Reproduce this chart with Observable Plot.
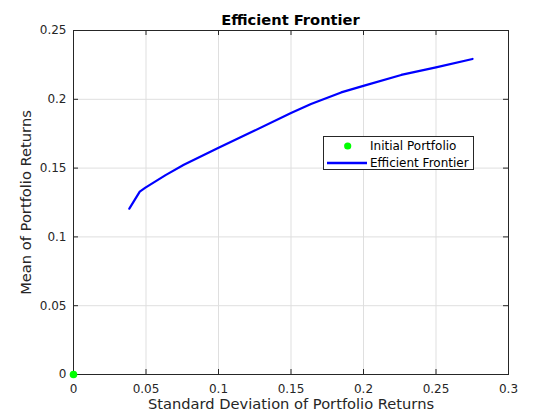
<!DOCTYPE html>
<html>
<head>
<meta charset="utf-8">
<script src="https://cdn.jsdelivr.net/npm/d3@7"></script>
<script src="https://cdn.jsdelivr.net/npm/@observablehq/plot@0.6"></script>
<style>
  html, body { margin: 0; padding: 0; background: #fff; }
  #wrap { position: relative; width: 560px; height: 420px; font-family: "DejaVu Sans", sans-serif; color: #262626; }
  #title { position: absolute; left: 0; width: 581px; top: 11px; line-height: 17px; text-align: center; font-weight: bold; font-size: 14.67px; color: #000; }
  #legend { position: absolute; left: 323px; top: 136px; width: 151px; height: 34px; border: 1px solid #262626; background: #fff; box-sizing: border-box; font-size: 12px; }
  .row { position: absolute; left: 0; height: 16px; display: flex; align-items: center; }
  .sym { width: 46px; position: relative; height: 16px; }
  .sym svg { display: block; }
  .lbl { white-space: nowrap; color: #000; line-height: 16px; }
</style>
</head>
<body>
<div id="wrap"></div>
<script>
// Data
const frontierRisk   = [0.0385, 0.0457, 0.0496, 0.0635, 0.0761, 0.0997, 0.1246, 0.1500, 0.1638, 0.1846, 0.2005, 0.2260, 0.2500, 0.2752];
const frontierReturn = [0.1205, 0.1329, 0.1358, 0.1449, 0.1524, 0.1646, 0.1771, 0.1900, 0.1966, 0.2050, 0.2099, 0.2177, 0.2232, 0.2293];
const initialRisk = [0];
const initialReturn = [0];
const xTicks = [0, 0.05, 0.1, 0.15, 0.2, 0.25, 0.3];
const yTicks = [0, 0.05, 0.1, 0.15, 0.2, 0.25];
const titleText = "Efficient Frontier";
const xLabel = "Standard Deviation of Portfolio Returns";
const yLabel = "Mean of Portfolio Returns";
const legendLabels = ["Initial Portfolio", "Efficient Frontier"];

const frontier = frontierRisk.map((x, i) => ({x, y: frontierReturn[i]}));
const initial = initialRisk.map((x, i) => ({x, y: initialReturn[i]}));

const W = 560, H = 420;
const mL = 73, mR = 52, mT = 30, mB = 46;
const fW = W - mL - mR, fH = H - mT - mB;
const axisColor = "#262626";

const chart = Plot.plot({
  width: W, height: H,
  marginLeft: mL, marginRight: mR, marginTop: mT, marginBottom: mB,
  style: {fontFamily: "DejaVu Sans, sans-serif", fontSize: "12px", color: axisColor, background: "#fff"},
  x: {domain: [0, 0.3], ticks: xTicks},
  y: {domain: [0, 0.25], ticks: yTicks},
  marks: [
    Plot.gridX(xTicks, {stroke: "#dfdfdf", strokeOpacity: 1, strokeWidth: 1}),
    Plot.gridY(yTicks, {stroke: "#dfdfdf", strokeOpacity: 1, strokeWidth: 1}),
    Plot.ruleX(xTicks, {stroke: axisColor, insetTop: fH - 5}),
    Plot.ruleX(xTicks, {stroke: axisColor, insetBottom: fH - 5}),
    Plot.ruleY(yTicks, {stroke: axisColor, insetRight: fW - 5}),
    Plot.ruleY(yTicks, {stroke: axisColor, insetLeft: fW - 5}),
    Plot.axisX(xTicks, {tickSize: 0, tickPadding: 10, fontSize: 12, label: null, tickFormat: d => String(d)}),
    Plot.axisY(yTicks, {tickSize: 0, tickPadding: 7, fontSize: 12, label: null, tickFormat: d => String(d)}),
    Plot.frame({stroke: axisColor, strokeWidth: 1}),
    Plot.line(frontier, {x: "x", y: "y", stroke: "#0000ff", strokeWidth: 2.2}),
    Plot.dot(initial, {x: "x", y: "y", r: 3.8, fill: "#00ff00", stroke: "none"}),
    Plot.text([xLabel], {frameAnchor: "bottom", textAnchor: "middle", dy: 34, fontSize: 14.67, fill: axisColor, text: d => d}),
    Plot.text([yLabel], {frameAnchor: "left", textAnchor: "middle", dx: -47, rotate: -90, fontSize: 14.67, fill: axisColor, text: d => d})
  ]
});

const wrap = document.getElementById("wrap");
wrap.appendChild(chart);
chart.style.position = "absolute";
chart.style.left = "0px";
chart.style.top = "0px";

const title = document.createElement("div");
title.id = "title";
title.textContent = titleText;
wrap.appendChild(title);

const legend = document.createElement("div");
legend.id = "legend";
legendLabels.forEach((lab, i) => {
  const row = document.createElement("div");
  row.className = "row";
  row.style.top = (i === 0 ? 1 : 18) + "px";
  const sym = document.createElement("div");
  sym.className = "sym";
  if (i === 0) {
    sym.innerHTML = '<svg width="46" height="16"><circle cx="23.7" cy="8" r="3.6" fill="#00ff00"/></svg>';
  } else {
    sym.innerHTML = '<svg width="46" height="16"><line x1="3" x2="43" y1="8" y2="8" stroke="#0000ff" stroke-width="2.5"/></svg>';
  }
  const lbl = document.createElement("span");
  lbl.className = "lbl";
  lbl.textContent = lab;
  row.appendChild(sym);
  row.appendChild(lbl);
  legend.appendChild(row);
});
wrap.appendChild(legend);
</script>
</body>
</html>
